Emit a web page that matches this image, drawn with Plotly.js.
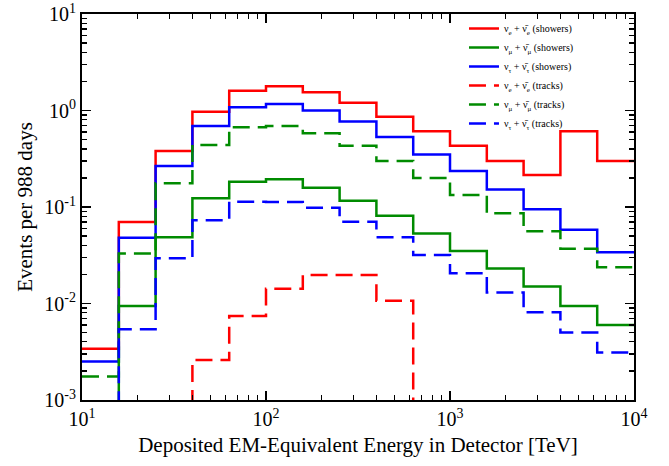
<!DOCTYPE html>
<html>
<head>
<meta charset="utf-8">
<script src="https://cdn.plot.ly/plotly-3.0.1.min.js"></script>
<style>html,body{margin:0;padding:0;background:#fff;}#chart{width:669px;height:466px;}</style>
</head>
<body>
<div id="chart"></div>
<script>
// Bin edges in TeV (0.2 decade bins from 10 to 10^4)
const binEdges = [10, 15.85, 25.12, 39.81, 63.10, 100, 158.5, 251.2, 398.1, 631.0, 1000, 1585, 2512, 3981, 6310, 10000];
// Events per bin (1e-4 marks bins below the plotted range)
const nueShowers   = [0.0034, 0.070, 0.38, 0.97, 1.6, 1.78, 1.55, 1.2, 0.86, 0.61, 0.43, 0.30, 0.215, 0.61, 0.30];
const numuShowers  = [1e-4, 0.0094, 0.0485, 0.123, 0.183, 0.194, 0.158, 0.116, 0.081, 0.053, 0.035, 0.023, 0.015, 0.0094, 0.006];
const nutauShowers = [0.0025, 0.048, 0.266, 0.69, 1.08, 1.17, 1.0, 0.77, 0.53, 0.35, 0.236, 0.152, 0.095, 0.058, 0.034];
const nueTracks    = [1e-4, 1e-4, 1e-4, 0.0026, 0.0074, 0.0142, 0.0197, 0.0197, 0.0107, 1e-4, 1e-4, 1e-4, 1e-4, 1e-4, 1e-4];
const numuTracks   = [0.00175, 0.033, 0.176, 0.44, 0.67, 0.69, 0.58, 0.43, 0.30, 0.20, 0.133, 0.086, 0.056, 0.037, 0.0237];
const nutauTracks  = [1e-4, 0.0054, 0.0294, 0.073, 0.1135, 0.113, 0.098, 0.0705, 0.0485, 0.0318, 0.0206, 0.013, 0.0081, 0.005, 0.0031];
const seriesNames = [
  "ν<sub>e</sub> + ν̄<sub>e</sub> (showers)",
  "ν<sub>μ</sub> + ν̄<sub>μ</sub> (showers)",
  "ν<sub>τ</sub> + ν̄<sub>τ</sub> (showers)",
  "ν<sub>e</sub> + ν̄<sub>e</sub> (tracks)",
  "ν<sub>μ</sub> + ν̄<sub>μ</sub> (tracks)",
  "ν<sub>τ</sub> + ν̄<sub>τ</sub> (tracks)"
];
const xTickVals = [10, 100, 1000, 10000];
const xTickText = ["10<sup>1</sup>", "10<sup>2</sup>", "10<sup>3</sup>", "10<sup>4</sup>"];
const yTickVals = [0.001, 0.01, 0.1, 1, 10];
const yTickText = ["10<sup>-3</sup>", "10<sup>-2</sup>", "10<sup>-1</sup>", "10<sup>0</sup>", "10<sup>1</sup>"];

const seriesData = [nueShowers, numuShowers, nutauShowers, nueTracks, numuTracks, nutauTracks];
const colors = ["#ff0000", "#008b00", "#0000ff", "#ff0000", "#008b00", "#0000ff"];
const dashes = ["solid", "solid", "solid", "17px,8px", "17px,8px", "17px,8px"];
const serif = "'Liberation Serif', 'Times New Roman', Times, 'DejaVu Serif', serif";

const traces = seriesData.map((vals, i) => ({
  x: binEdges,
  y: vals.concat([vals[vals.length - 1]]),
  type: "scatter",
  mode: "lines",
  line: {shape: "hv", color: colors[i], width: 2.5, dash: dashes[i]},
  name: seriesNames[i]
}));

const axisCommon = {
  type: "log",
  tickmode: "array",
  showgrid: false,
  zeroline: false,
  showline: true,
  linecolor: "#000",
  linewidth: 2,
  mirror: "allticks",
  ticks: "inside",
  ticklen: 9,
  tickwidth: 1.5,
  tickcolor: "#000",
  tickfont: {family: serif, size: 20, color: "#000"},
  minor: {ticks: "inside", ticklen: 5, tickwidth: 1.2, tickcolor: "#000", showgrid: false, dtick: "D1"}
};

const layout = {
  width: 669, height: 466,
  margin: {l: 82, r: 35, t: 14, b: 66},
  paper_bgcolor: "#fff", plot_bgcolor: "#fff",
  font: {family: serif, color: "#000"},
  showlegend: true,
  legend: {
    x: 0.692, y: 1.0, xanchor: "left", yanchor: "top",
    font: {family: serif, size: 10, color: "#000"},
    bgcolor: "rgba(255,255,255,0)", borderwidth: 0,
    tracegroupgap: 0
  },
  xaxis: Object.assign({}, axisCommon, {
    range: [1, 4],
    tickvals: xTickVals, ticktext: xTickText,
    title: {text: "Deposited EM-Equivalent Energy in Detector [TeV]", font: {family: serif, size: 21, color: "#000"}, standoff: 8}
  }),
  yaxis: Object.assign({}, axisCommon, {
    range: [-3, 1],
    tickvals: yTickVals, ticktext: yTickText,
    title: {text: "Events per 988 days", font: {family: serif, size: 21, color: "#000"}, standoff: 6}
  })
};

Plotly.newPlot("chart", traces, layout, {staticPlot: true, displayModeBar: false});
</script>
</body>
</html>
